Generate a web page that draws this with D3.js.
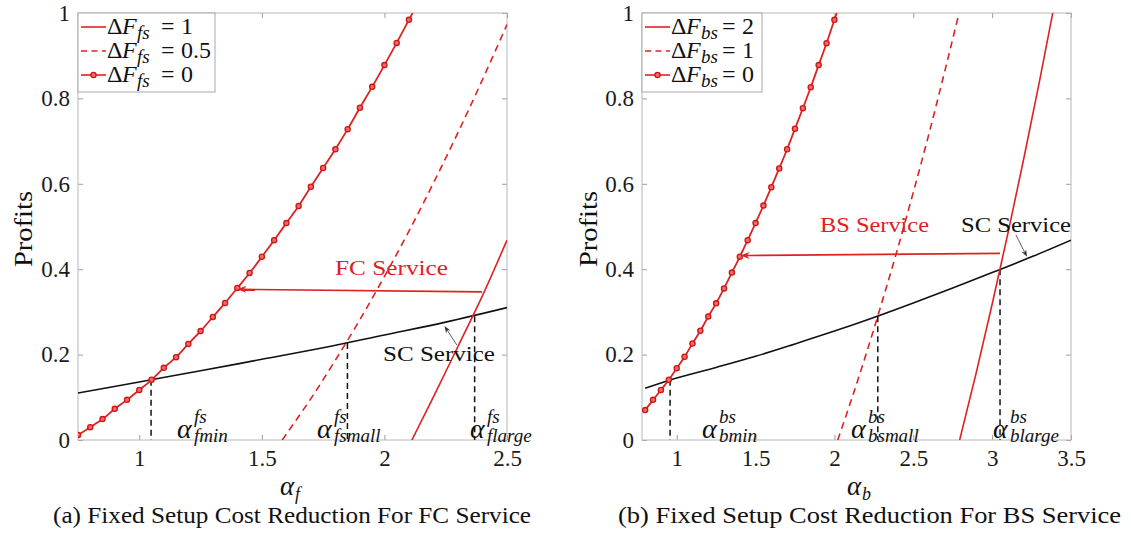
<!DOCTYPE html>
<html><head><meta charset="utf-8">
<script src="https://cdn.jsdelivr.net/npm/d3@7"></script>
<style>
body{margin:0;background:#fff}
svg{display:block}
</style>
</head><body>
<svg id="c" width="1131" height="536"></svg>
<script>
// ---------------- DATA ----------------
// Panel (a): FC service
const fcZeroAlpha = [0.75,0.80,0.85,0.90,0.95,1.00,1.05,1.10,1.15,1.20,1.25,1.30,1.35,1.40,1.45,1.50,1.55,1.60,1.65,1.70,1.75,1.80,1.85,1.90,1.95,2.00,2.05,2.10,2.115];
const fcZeroProfit = [0.012,0.030,0.049,0.073,0.094,0.117,0.141,0.169,0.194,0.225,0.255,0.288,0.321,0.356,0.391,0.429,0.468,0.508,0.548,0.593,0.637,0.681,0.728,0.778,0.827,0.878,0.930,0.984,1.0];
const fcHalfAlpha = [1.583,1.6,1.7,1.8,1.9,2.0,2.1,2.2,2.3,2.4,2.5];
const fcHalfProfit = [0,0.014,0.097,0.187,0.282,0.383,0.489,0.602,0.720,0.844,0.973];
const fcOneAlpha = [2.112,2.2,2.3,2.4,2.5];
const fcOneProfit = [0,0.101,0.219,0.338,0.468];
const scLeftAlpha = [0.75,1.0,1.25,1.5,1.75,2.0,2.25,2.5];
const scLeftProfit = [0.110,0.136,0.162,0.189,0.216,0.246,0.276,0.310];
const fcThreshAlpha = [1.048,1.849,2.368];
const fcThreshProfit = [0.141,0.227,0.290];
const fcThreshSub = ["fmin","fsmall","flarge"];
const fcLegend = ["1","0.5","0"];
const fcXTicks = [1,1.5,2,2.5];

// Panel (b): BS service
const bsZeroAlpha = [0.80,0.85,0.90,0.95,1.00,1.05,1.10,1.15,1.20,1.25,1.30,1.35,1.40,1.45,1.50,1.55,1.60,1.65,1.70,1.75,1.80,1.85,1.90,1.95,2.00,2.015];
const bsZeroProfit = [0.070,0.094,0.117,0.141,0.168,0.195,0.226,0.256,0.289,0.320,0.355,0.392,0.429,0.468,0.508,0.549,0.592,0.636,0.681,0.729,0.777,0.826,0.878,0.929,0.984,1.0];
const bsOneAlpha = [2.021,2.1,2.2,2.3,2.4,2.5,2.6,2.7,2.8];
const bsOneProfit = [0,0.086,0.200,0.321,0.447,0.580,0.718,0.864,1.015];
const bsTwoAlpha = [2.794,2.9,3.0,3.1,3.2,3.3,3.4];
const bsTwoProfit = [0,0.159,0.318,0.484,0.658,0.840,1.03];
const scRightAlpha = [0.8,1.0,1.25,1.5,1.75,2.0,2.25,2.5,2.75,3.0,3.25,3.5];
const scRightProfit = [0.121,0.145,0.170,0.196,0.225,0.255,0.287,0.321,0.356,0.392,0.429,0.468];
const bsThreshAlpha = [0.958,2.275,3.05];
const bsThreshProfit = [0.141,0.290,0.400];
const bsThreshSub = ["bmin","bsmall","blarge"];
const bsLegend = ["2","1","0"];
const bsXTicks = [1,1.5,2,2.5,3,3.5];

const yTicks = [0,0.2,0.4,0.6,0.8,1];

// ---------------- DRAW ----------------
const RED = "#dd2222";
const FONT = '"Liberation Serif", "Times New Roman", serif';
const svg = d3.select("#c");
const zip = (a,b) => a.map((v,i)=>[v,b[i]]);

function arrowHead(g, x1, y1, x2, y2, color, len, hw, lw) {
  const ang = Math.atan2(y2-y1, x2-x1);
  const c = Math.cos(ang), s = Math.sin(ang);
  const bx = x2 - len*c, by = y2 - len*s;
  const nx = x2 - len*0.7*c, ny = y2 - len*0.7*s;
  g.append("line").attr("x1",x1).attr("y1",y1).attr("x2",nx).attr("y2",ny)
    .attr("stroke",color).attr("stroke-width",lw);
  g.append("path")
    .attr("d",`M${x2},${y2}L${bx - hw*s},${by + hw*c}L${nx},${ny}L${bx + hw*s},${by - hw*c}Z`)
    .attr("fill",color).attr("stroke","none");
}

function panel(p) {
  const x = d3.scaleLinear().domain(p.xDomain).range(p.xRange);
  const y = d3.scaleLinear().domain([0,1]).range([440,13]);
  const [x0,x1] = p.xRange;
  const g = svg.append("g");
  const clipId = "clip"+p.id;
  svg.append("clipPath").attr("id",clipId).append("rect")
    .attr("x",x0).attr("y",13).attr("width",x1-x0).attr("height",427);

  const styleAxis = sel => {
    sel.select(".domain").remove();
    sel.selectAll(".tick line").attr("stroke","#9c9c9c").attr("stroke-width",1);
    sel.selectAll(".tick text").attr("fill","#1a1a1a").attr("font-size",23);
  };
  g.append("g").attr("transform","translate(0,440)")
    .call(d3.axisBottom(x).tickValues(p.xTicks).tickSize(-5).tickPadding(10).tickFormat(d=>String(d)))
    .call(styleAxis);
  g.append("g").attr("transform","translate(0,13)")
    .call(d3.axisTop(x).tickValues(p.xTicks).tickSize(-5).tickFormat(""))
    .call(styleAxis);
  g.append("g").attr("transform",`translate(${x0},0)`)
    .call(d3.axisLeft(y).tickValues(yTicks).tickSize(-5).tickPadding(8).tickFormat(d=>String(d)))
    .call(styleAxis);
  g.append("g").attr("transform",`translate(${x1},0)`)
    .call(d3.axisRight(y).tickValues(yTicks).tickSize(-5).tickFormat(""))
    .call(styleAxis);
  g.append("rect").attr("x",x0).attr("y",13).attr("width",x1-x0).attr("height",427)
    .attr("fill","none").attr("stroke","#b8b8b8").attr("stroke-width",1);

  const plot = g.append("g").attr("clip-path",`url(#${clipId})`);
  const line = d3.line().x(d=>x(d[0])).y(d=>y(d[1])).curve(d3.curveMonotoneX);

  p.thresh.forEach(d=>{
    plot.append("line").attr("x1",x(d[0])).attr("x2",x(d[0]))
      .attr("y1",y(d[1])).attr("y2",y(0))
      .attr("stroke","#111").attr("stroke-width",1.5).attr("stroke-dasharray","6,4");
  });

  plot.append("path").datum(p.sc).attr("d",line).attr("fill","none")
    .attr("stroke","#111").attr("stroke-width",1.6);
  plot.append("path").datum(p.mid).attr("d",line).attr("fill","none")
    .attr("stroke",RED).attr("stroke-width",1.6).attr("stroke-dasharray","7,5");
  plot.append("path").datum(p.high).attr("d",line).attr("fill","none")
    .attr("stroke",RED).attr("stroke-width",1.6);
  plot.append("path").datum(p.zero).attr("d",line).attr("fill","none")
    .attr("stroke",RED).attr("stroke-width",1.8);
  plot.selectAll("circle.m").data(p.zero.filter(d=>d[1]<0.995)).join("circle")
    .attr("class","m").attr("cx",d=>x(d[0])).attr("cy",d=>y(d[1])).attr("r",2.6)
    .attr("fill","#ee6a6a").attr("stroke","#d01515").attr("stroke-width",1.3);

  const a = p.arrow;
  arrowHead(g, x(a[0][0]), y(a[0][1]), x(a[1][0]), y(a[1][1]), RED, 9, 3.5, 1.6);
  const s = p.scArrow;
  arrowHead(g, x(s[0][0]), y(s[0][1]), x(s[1][0]), y(s[1][1]), "#333", 7, 2.6, 0.8);

  g.append("text").attr("x",p.svcText[0]).attr("y",p.svcText[1]).attr("font-size",22)
    .attr("fill",RED).attr("textLength",p.svcText[2]).attr("lengthAdjust","spacingAndGlyphs")
    .text(p.svcLabel);
  g.append("text").attr("x",p.scText[0]).attr("y",p.scText[1]).attr("font-size",22)
    .attr("fill","#111").attr("textLength",p.scText[2]).attr("lengthAdjust","spacingAndGlyphs")
    .text("SC Service");

  p.thresh.forEach((d,i)=>{
    const ax = p.alphaX[i];
    const t = g.append("text").attr("fill","#111").attr("font-style","italic");
    t.append("tspan").attr("x",ax).attr("y",438).attr("font-size",28).text("α");
    t.append("tspan").attr("x",ax+17).attr("y",423).attr("font-size",19).text(p.sup);
    t.append("tspan").attr("x",ax+17).attr("y",442).attr("font-size",19).text(p.subs[i]);
  });

  const xl = g.append("text").attr("fill","#111").attr("font-style","italic");
  xl.append("tspan").attr("x",p.xLabelX).attr("y",495).attr("font-size",27).text("α");
  xl.append("tspan").attr("x",p.xLabelX+15).attr("y",500).attr("font-size",18).text(p.xSub);
  g.append("text").attr("transform",`translate(${p.yLabelX},229) rotate(-90)`)
    .attr("text-anchor","middle").attr("font-size",26).attr("fill","#111")
    .attr("textLength",76).attr("lengthAdjust","spacingAndGlyphs").text("Profits");
  g.append("text").attr("x",p.caption[0]).attr("y",523).attr("font-size",23.5).attr("fill","#111")
    .attr("textLength",p.caption[1]).attr("lengthAdjust","spacingAndGlyphs").text(p.captionText);

  const L = p.legend;
  g.append("rect").attr("x",x0).attr("y",13).attr("width",L.w).attr("height",79)
    .attr("fill","#fff").attr("stroke","#a8a8a8").attr("stroke-width",1);
  const rowsY = [27,51,75];
  L.labels.forEach((lab,i)=>{
    const yy = rowsY[i];
    const ln = g.append("line").attr("x1",x0+3).attr("x2",x0+28).attr("y1",yy).attr("y2",yy)
      .attr("stroke",RED).attr("stroke-width",1.6);
    if (i===1) ln.attr("stroke-dasharray","6,4.5");
    if (i===2) g.append("circle").attr("cx",x0+15.5).attr("cy",yy).attr("r",2.6)
      .attr("fill","#ee6a6a").attr("stroke","#d01515").attr("stroke-width",1.3);
    const bx = x0 + 29, by = yy + 7;
    g.append("text").attr("x",bx).attr("y",by).attr("font-size",24).attr("fill","#111").text("Δ");
    g.append("text").attr("x",bx+15).attr("y",by).attr("font-size",24).attr("fill","#111")
      .attr("font-style","italic").text("F");
    g.append("text").attr("x",bx+30).attr("y",by+5).attr("font-size",19).attr("fill","#111")
      .attr("font-style","italic").text(L.sub);
    g.append("text").attr("x",bx+L.eqDx).attr("y",by).attr("font-size",24).attr("fill","#111").text("=");
    g.append("text").attr("x",bx+L.eqDx+20).attr("y",by).attr("font-size",24).attr("fill","#111").text(lab);
  });
}

panel({
  id:"a", xDomain:[0.75,2.5], xRange:[78,507], xTicks:fcXTicks,
  zero:zip(fcZeroAlpha,fcZeroProfit), mid:zip(fcHalfAlpha,fcHalfProfit),
  high:zip(fcOneAlpha,fcOneProfit), sc:zip(scLeftAlpha,scLeftProfit),
  thresh:zip(fcThreshAlpha,fcThreshProfit), sup:"fs", subs:fcThreshSub,
  alphaX:[177,317,470],
  arrow:[[2.398,0.347],[1.40,0.353]], scArrow:[[2.296,0.222],[2.245,0.267]],
  svcLabel:"FC Service", svcText:[335,275,113], scText:[383,361,112],
  xLabelX:280, xSub:"f", yLabelX:32,
  caption:[53,478], captionText:"(a) Fixed Setup Cost Reduction For FC Service",
  legend:{w:137, labels:fcLegend, sub:"fs", eqDx:54}
});
panel({
  id:"b", xDomain:[0.78,3.5], xRange:[642,1071], xTicks:bsXTicks,
  zero:zip(bsZeroAlpha,bsZeroProfit), mid:zip(bsOneAlpha,bsOneProfit),
  high:zip(bsTwoAlpha,bsTwoProfit), sc:zip(scRightAlpha,scRightProfit),
  thresh:zip(bsThreshAlpha,bsThreshProfit), sup:"bs", subs:bsThreshSub,
  alphaX:[702,851,993],
  arrow:[[3.05,0.437],[1.405,0.432]], scArrow:[[3.151,0.480],[3.221,0.429]],
  svcLabel:"BS Service", svcText:[820,232,109], scText:[961,232,110],
  xLabelX:847, xSub:"b", yLabelX:597,
  caption:[618,503], captionText:"(b) Fixed Setup Cost Reduction For BS Service",
  legend:{w:120, labels:bsLegend, sub:"bs", eqDx:51}
});

svg.selectAll("text").style("font-family", FONT);
</script>
</body></html>
